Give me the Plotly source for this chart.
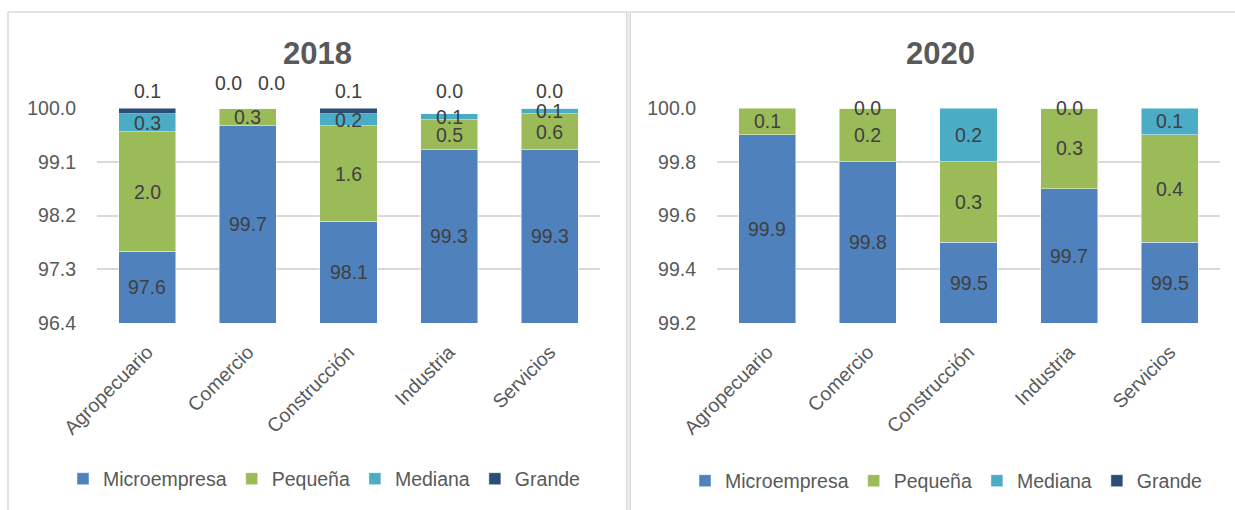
import plotly.graph_objects as go

# Categories, size classes and values (%) for each year
categorias = ["Agropecuario", "Comercio", "Construcción", "Industria", "Servicios"]
tamanos = ["Microempresa", "Pequeña", "Mediana", "Grande"]
colores = ["#4F81BD", "#9BBB59", "#4BACC6", "#2C4D75"]

micro_2018 = [97.6, 99.7, 98.1, 99.3, 99.3]
pequena_2018 = [2.0, 0.3, 1.6, 0.5, 0.6]
mediana_2018 = [0.3, 0.0, 0.2, 0.1, 0.1]
grande_2018 = [0.1, 0.0, 0.1, 0.0, 0.0]

micro_2020 = [99.9, 99.8, 99.5, 99.7, 99.5]
pequena_2020 = [0.1, 0.2, 0.3, 0.3, 0.4]
mediana_2020 = [None, 0.0, 0.2, 0.0, 0.1]
grande_2020 = [None, None, None, None, None]

ticks_2018 = [96.4, 97.3, 98.2, 99.1, 100.0]
ticks_2020 = [99.2, 99.4, 99.6, 99.8, 100.0]

W, H = 1235, 510
FONT = "Liberation Sans Narrow, Arial Narrow, Liberation Sans, Arial, sans-serif"
FS = 19.5
TEXT = "#404040"
AXIS_TEXT = "#595959"
GRID = "#D9D9D9"


def px_x(p):
    return p / W


def px_y(p):
    return 1 - p / H


panels = [
    dict(year="2018", series=[micro_2018, pequena_2018, mediana_2018, grande_2018],
         ticks=ticks_2018, xa="x", ya="y", legend="legend",
         title_x=317, lift_small=True),
    dict(year="2020", series=[micro_2020, pequena_2020, mediana_2020, grande_2020],
         ticks=ticks_2020, xa="x2", ya="y2", legend="legend2",
         title_x=940, lift_small=False),
]

fig = go.Figure()
annotations = []

for p in panels:
    ymin, ymax = p["ticks"][0], p["ticks"][-1]
    for name, color, vals in zip(tamanos, colores, p["series"]):
        fig.add_trace(go.Bar(
            x=categorias, y=vals, name=name, xaxis=p["xa"], yaxis=p["ya"],
            legend=p["legend"],
            marker=dict(color=color, line=dict(color="rgba(255,255,255,0.6)", width=0.8)),
            hoverinfo="skip",
        ))

    # Segment labels
    cum = [0.0] * len(categorias)
    above = {i: [] for i in range(len(categorias))}
    for s, vals in enumerate(p["series"]):
        for i, v in enumerate(vals):
            if v is None:
                continue
            base = cum[i]
            top = base + v
            cum[i] = top
            txt = f"{v:.1f}"
            if p["lift_small"] and (s == 3 or (s == 2 and v == 0)):
                above[i].append(txt)
                continue
            mid = (max(base, ymin) + min(top, ymax)) / 2
            annotations.append(dict(
                x=categorias[i], y=mid, xref=p["xa"], yref=p["ya"], text=txt,
                showarrow=False, font=dict(family=FONT, size=FS, color=TEXT),
                xanchor="center", yanchor="middle"))
    for i, labels in above.items():
        n = len(labels)
        for k, txt in enumerate(labels):
            xs = 0 if n == 1 else (-19 if k == 0 else 24)
            ys = 17 if n == 1 else 25
            annotations.append(dict(
                x=categorias[i], y=ymax, xref=p["xa"], yref=p["ya"], text=txt,
                showarrow=False, font=dict(family=FONT, size=FS, color=TEXT),
                xanchor="center", yanchor="middle", xshift=xs, yshift=ys))

    # Panel title
    annotations.append(dict(
        x=px_x(p["title_x"]), y=px_y(54), xref="paper", yref="paper",
        text=f"<b>{p['year']}</b>", showarrow=False,
        font=dict(family=FONT, size=31, color=AXIS_TEXT),
        xanchor="center", yanchor="middle"))


def xaxis_style(domain, anchor):
    return dict(domain=domain, anchor=anchor, showline=False, showgrid=False,
                zeroline=False, ticks="", tickangle=-45, automargin=False,
                ticklabelstandoff=13,
                tickfont=dict(family=FONT, size=FS, color=AXIS_TEXT))


def yaxis_style(anchor, ticks):
    return dict(domain=[px_y(323), px_y(108)], anchor=anchor, range=[ticks[0], ticks[-1]],
                tickvals=ticks, ticktext=[f"{t:.1f}" for t in ticks],
                showgrid=True, gridcolor=GRID, gridwidth=1.5, zeroline=False, showline=False,
                ticks="", ticklabelstandoff=20, automargin=False,
                tickfont=dict(family=FONT, size=FS, color=AXIS_TEXT))


def legend_style(x_px, y_px):
    return dict(orientation="h", x=px_x(x_px), y=px_y(y_px), xanchor="left", yanchor="middle",
                font=dict(family=FONT, size=FS, color=AXIS_TEXT), bgcolor="rgba(0,0,0,0)",
                traceorder="normal", itemclick=False, itemdoubleclick=False)


fig.update_layout(
    width=W, height=H, autosize=False,
    margin=dict(l=0, r=0, t=0, b=0, autoexpand=False),
    paper_bgcolor="white", plot_bgcolor="white",
    barmode="stack", bargap=0.433,
    font=dict(family=FONT, color=AXIS_TEXT),
    xaxis=xaxis_style([px_x(97), px_x(600)], "y"),
    yaxis=yaxis_style("x", ticks_2018),
    xaxis2=xaxis_style([px_x(717), px_x(1220)], "y2"),
    yaxis2=yaxis_style("x2", ticks_2020),
    legend=legend_style(63, 479),
    legend2=legend_style(685, 481),
    annotations=annotations,
    shapes=[
        # left panel frame
        dict(type="line", xref="paper", yref="paper", x0=px_x(8), x1=px_x(8), y0=px_y(12), y1=-0.05,
             line=dict(color=GRID, width=1.5)),
        dict(type="line", xref="paper", yref="paper", x0=px_x(8), x1=px_x(627), y0=px_y(12), y1=px_y(12),
             line=dict(color=GRID, width=1.5)),
        # divider between panels
        dict(type="rect", xref="paper", yref="paper", x0=px_x(626.5), x1=px_x(630.5), y0=-0.05, y1=px_y(12),
             fillcolor="#EBEBEB", line=dict(color=GRID, width=1)),
        # right panel frame top
        dict(type="line", xref="paper", yref="paper", x0=px_x(630), x1=1.01, y0=px_y(12), y1=px_y(12),
             line=dict(color=GRID, width=1.5)),
    ],
)

fig.write_html("out.html")
